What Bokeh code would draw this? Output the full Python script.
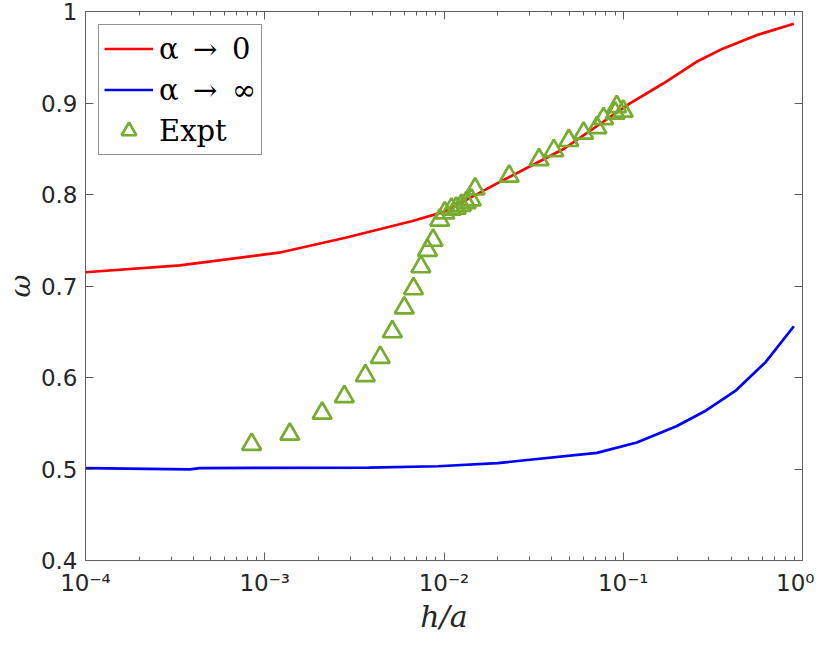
from bokeh.plotting import figure
from bokeh.models import (FixedTicker, LogAxis, LinearAxis, Legend, LegendItem,
                          Range1d)
from bokeh.embed import file_html
from bokeh.resources import INLINE

# ---- data ----
red_h = [1e-4, 3.36e-4, 1.20e-3, 2.82e-3, 6.59e-3, 1.0e-2, 1.99e-2, 4.67e-2,
         1.09e-1, 1.67e-1, 2.55e-1, 3.59e-1, 5.50e-1, 8.95e-1]
red_w = [0.715, 0.7225, 0.7364, 0.7527, 0.7708, 0.781, 0.8124, 0.850,
         0.8995, 0.9213, 0.9448, 0.9594, 0.9739, 0.9866]

blue_h = [1e-4, 3.82e-4, 4.34e-4, 3.79e-3, 9.27e-3, 1.99e-2, 7.13e-2, 1.19e-1,
          1.98e-1, 2.90e-1, 4.26e-1, 6.24e-1, 8.95e-1]
blue_w = [0.501, 0.4995, 0.501, 0.5016, 0.503, 0.5065, 0.5176, 0.529,
          0.5467, 0.564, 0.586, 0.617, 0.656]

expt_h = [8.45e-4, 1.38e-3, 2.09e-3, 2.78e-3, 3.64e-3, 4.41e-3, 5.15e-3,
          6.00e-3, 6.76e-3, 7.43e-3, 8.09e-3, 8.69e-3, 9.46e-3, 1.01e-2,
          1.10e-2, 1.17e-2, 1.25e-2, 1.33e-2, 1.42e-2, 1.49e-2, 2.31e-2,
          3.39e-2, 4.10e-2, 4.97e-2, 6.01e-2, 7.13e-2, 7.76e-2, 9.02e-2,
          9.20e-2, 1.00e-1]
expt_w = [0.527, 0.538, 0.561, 0.579, 0.602, 0.622, 0.650, 0.676, 0.697,
          0.721, 0.739, 0.750, 0.772, 0.780, 0.784, 0.785, 0.788, 0.791,
          0.794, 0.806, 0.820, 0.838, 0.848, 0.859, 0.867, 0.873, 0.883,
          0.889, 0.896, 0.891]

x_ticks = [1e-4, 1e-3, 1e-2, 1e-1, 1.0]
x_tick_labels = ["10\u207b\u2074", "10\u207b\u00b3", "10\u207b\u00b2", "10\u207b\u00b9", "10\u2070"]
y_ticks = [0.4, 0.5, 0.6, 0.7, 0.8, 0.9, 1.0]
y_tick_labels = ["0.4", "0.5", "0.6", "0.7", "0.8", "0.9", "1"]
legend_labels = ["\u03b1\u2002\u2192\u20020", "\u03b1\u2002\u2192\u2002\u221e", "Expt"]

minor = [m * 10.0 ** e for e in range(-4, 0) for m in range(2, 10)]

AX = "#5f5f5f"
TXT = "#262626"

p = figure(width=814, height=638, x_axis_type="log",
           x_range=Range1d(1e-4, 1.0), y_range=Range1d(0.4, 1.0),
           output_backend="svg", toolbar_location=None,
           min_border_left=77, min_border_right=12, min_border_top=11,
           min_border_bottom=78)
p.background_fill_color = "white"
p.border_fill_color = "white"
p.outline_line_color = AX
p.xgrid.visible = False
p.ygrid.visible = False


def style(ax, labels=True):
    ax.axis_line_color = AX
    ax.major_tick_line_color = AX
    ax.minor_tick_line_color = AX
    ax.major_tick_in = 8
    ax.major_tick_out = 0
    ax.minor_tick_in = 4
    ax.minor_tick_out = 0
    ax.major_label_text_color = TXT
    ax.major_label_text_font = "DejaVu Sans"
    ax.major_label_text_font_size = "23px"
    if not labels:
        ax.major_label_text_font_size = "1px"
        ax.major_label_text_alpha = 0
        ax.major_label_standoff = 0
        ax.axis_label_standoff = 0


xt = FixedTicker(ticks=x_ticks, minor_ticks=minor)
yt = FixedTicker(ticks=y_ticks, minor_ticks=[])

xa = p.xaxis[0]
xa.ticker = xt
xa.major_label_overrides = {t: l for t, l in zip(x_ticks, x_tick_labels)}
style(xa)
xa.major_label_standoff = 9
xa.axis_label = "h/a"
xa.axis_label_text_font = "DejaVu Serif"
xa.axis_label_text_font_style = "italic"
xa.axis_label_text_font_size = "30px"
xa.axis_label_text_color = TXT
xa.axis_label_standoff = 0

ya = p.yaxis[0]
ya.ticker = yt
ya.major_label_overrides = {t: l for t, l in zip(y_ticks, y_tick_labels)}
style(ya)
ya.major_label_standoff = 8
ya.axis_label = "\u03c9"
ya.axis_label_text_font = "DejaVu Serif"
ya.axis_label_text_font_style = "italic"
ya.axis_label_text_font_size = "28px"
ya.axis_label_text_color = TXT
ya.axis_label_standoff = 1

top = LogAxis(ticker=FixedTicker(ticks=x_ticks, minor_ticks=minor))
style(top, labels=False)
p.add_layout(top, "above")
right = LinearAxis(ticker=FixedTicker(ticks=y_ticks, minor_ticks=[]))
style(right, labels=False)
p.add_layout(right, "right")

r1 = p.line(red_h, red_w, line_color="#ff0000", line_width=2.7)
r2 = p.line(blue_h, blue_w, line_color="#0000ff", line_width=2.7)
r3 = p.scatter(expt_h, expt_w, marker="triangle", size=19,
               fill_alpha=0, line_color="#77ac30", line_width=2.7)

legend = Legend(items=[LegendItem(label=legend_labels[0], renderers=[r1]),
                       LegendItem(label=legend_labels[1], renderers=[r2]),
                       LegendItem(label=legend_labels[2], renderers=[r3])],
                location="top_left", margin=13, padding=5, spacing=4,
                glyph_width=49, glyph_height=37, label_standoff=6,
                label_text_font="DejaVu Serif", label_text_font_size="29px",
                label_text_color="black", border_line_color=TXT,
                border_line_width=1, background_fill_color="white",
                background_fill_alpha=1)
p.add_layout(legend, "center")

open("out.html", "w").write(file_html(p, INLINE))
